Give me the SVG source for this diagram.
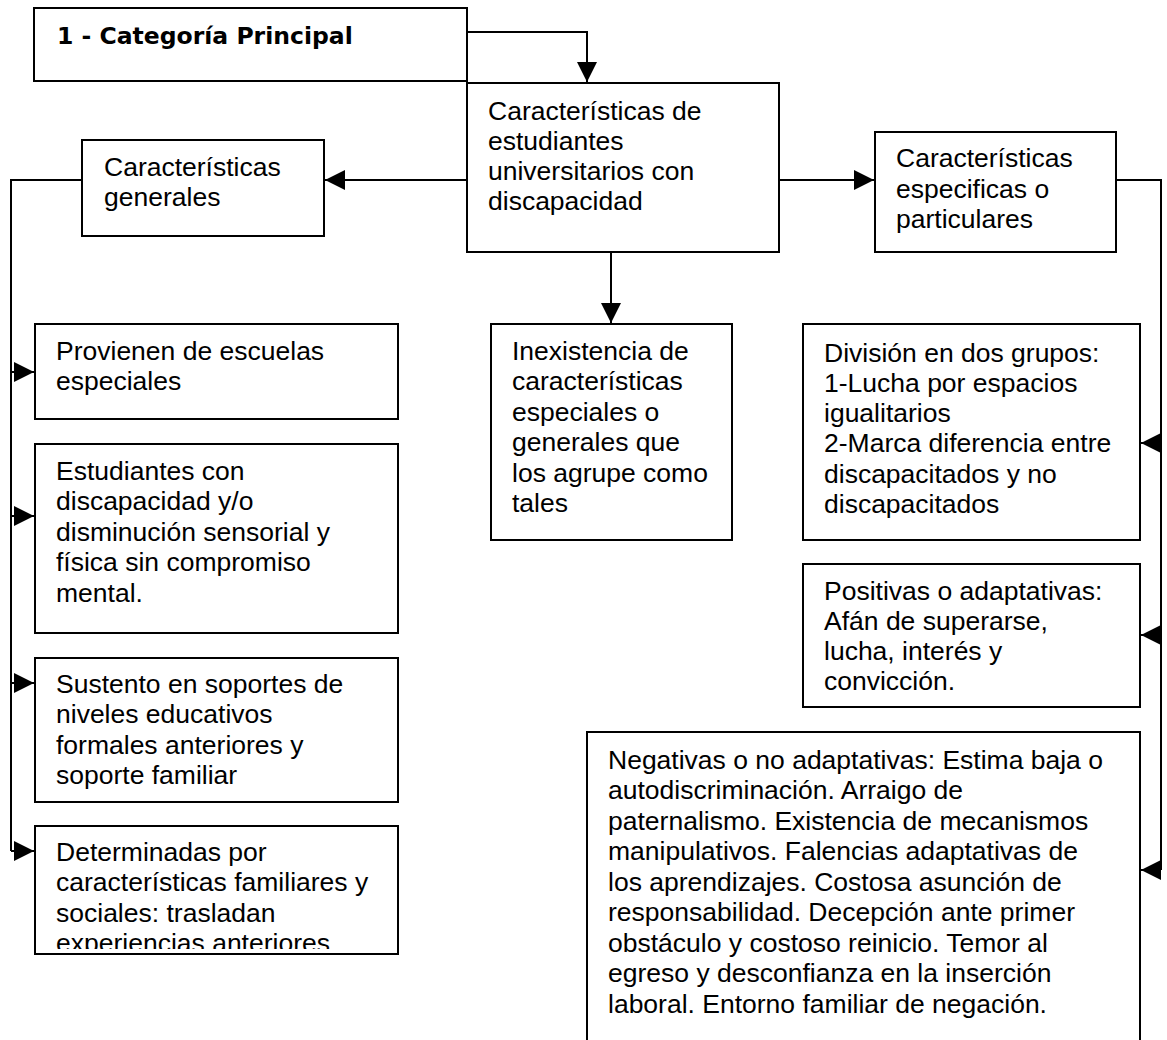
<svg xmlns="http://www.w3.org/2000/svg" width="1167" height="1040" viewBox="0 0 1167 1040">
<style>
.box{fill:#fff;stroke:#000;stroke-width:2}
.t{font-family:"Liberation Sans",Arial,sans-serif;font-size:26.5px;fill:#000}
.b{font-family:"DejaVu Sans",Verdana,sans-serif;font-size:23.5px;font-weight:bold;fill:#000}
.ln{fill:none;stroke:#000;stroke-width:2}
</style>
<defs>
<marker id="ah" markerUnits="userSpaceOnUse" markerWidth="21" markerHeight="20" refX="20" refY="10" orient="auto">
<path d="M0,0 L20,10 L0,20 Z" fill="#000"/>
</marker>
<clipPath id="clip4"><rect x="35" y="826" width="364" height="123"/></clipPath>
</defs>
<rect width="1167" height="1040" fill="#fff"/>

<g id="connectors">
<path class="ln" d="M467,32 H587 V82" marker-end="url(#ah)"/>
<path class="ln" d="M467,180 H325" marker-end="url(#ah)"/>
<path class="ln" d="M779,180 H874" marker-end="url(#ah)"/>
<path class="ln" d="M611,252 V323" marker-end="url(#ah)"/>
<path class="ln" d="M82,180 H11 V851"/>
<path class="ln" d="M11,372 H34" marker-end="url(#ah)"/>
<path class="ln" d="M11,516 H34" marker-end="url(#ah)"/>
<path class="ln" d="M11,683 H34" marker-end="url(#ah)"/>
<path class="ln" d="M11,851 H34" marker-end="url(#ah)"/>
<path class="ln" d="M1116,180 H1161 V870"/>
<path class="ln" d="M1161,443 H1141" marker-end="url(#ah)"/>
<path class="ln" d="M1161,635 H1141" marker-end="url(#ah)"/>
<path class="ln" d="M1161,870 H1141" marker-end="url(#ah)"/>
</g>

<g id="n-categoria">
<rect class="box" x="34" y="8" width="433" height="73"/>
<text class="b" x="57" y="44">1 - Categoría Principal</text>
</g>

<g id="n-centro">
<rect class="box" x="467" y="83" width="312" height="169"/>
<text class="t"><tspan x="488" y="119.5">Características de</tspan><tspan x="488" y="149.5">estudiantes</tspan><tspan x="488" y="180">universitarios con</tspan><tspan x="488" y="210">discapacidad</tspan></text>
</g>

<g id="n-generales">
<rect class="box" x="82" y="140" width="242" height="96"/>
<text class="t"><tspan x="104" y="176">Características</tspan><tspan x="104" y="206">generales</tspan></text>
</g>

<g id="n-especificas">
<rect class="box" x="875" y="132" width="241" height="120"/>
<text class="t"><tspan x="896" y="167">Características</tspan><tspan x="896" y="197.5">especificas o</tspan><tspan x="896" y="228">particulares</tspan></text>
</g>

<g id="n-inexistencia">
<rect class="box" x="491" y="324" width="241" height="216"/>
<text class="t"><tspan x="512" y="359.5">Inexistencia de</tspan><tspan x="512" y="390">características</tspan><tspan x="512" y="420.5">especiales o</tspan><tspan x="512" y="451">generales que</tspan><tspan x="512" y="481.5">los agrupe como</tspan><tspan x="512" y="512">tales</tspan></text>
</g>

<g id="n-provienen">
<rect class="box" x="35" y="324" width="363" height="95"/>
<text class="t"><tspan x="56" y="359.5">Provienen de escuelas</tspan><tspan x="56" y="390">especiales</tspan></text>
</g>

<g id="n-estudiantes">
<rect class="box" x="35" y="444" width="363" height="189"/>
<text class="t"><tspan x="56" y="479.5">Estudiantes con</tspan><tspan x="56" y="510">discapacidad y/o</tspan><tspan x="56" y="540.5">disminución sensorial y</tspan><tspan x="56" y="571">física sin compromiso</tspan><tspan x="56" y="601.5">mental.</tspan></text>
</g>

<g id="n-sustento">
<rect class="box" x="35" y="658" width="363" height="144"/>
<text class="t"><tspan x="56" y="692.5">Sustento en soportes de</tspan><tspan x="56" y="723">niveles educativos</tspan><tspan x="56" y="753.5">formales anteriores y</tspan><tspan x="56" y="784">soporte familiar</tspan></text>
</g>

<g id="n-determinadas">
<rect class="box" x="35" y="826" width="363" height="128"/>
<text class="t" clip-path="url(#clip4)"><tspan x="56" y="860.5">Determinadas por</tspan><tspan x="56" y="891">características familiares y</tspan><tspan x="56" y="921.5">sociales: trasladan</tspan><tspan x="56" y="952">experiencias anteriores</tspan></text>
</g>

<g id="n-division">
<rect class="box" x="803" y="324" width="337" height="216"/>
<text class="t"><tspan x="824" y="362">División en dos grupos:</tspan><tspan x="824" y="392">1-Lucha por espacios</tspan><tspan x="824" y="422">igualitarios</tspan><tspan x="824" y="452">2-Marca diferencia entre</tspan><tspan x="824" y="482.5">discapacitados y no</tspan><tspan x="824" y="512.5">discapacitados</tspan></text>
</g>

<g id="n-positivas">
<rect class="box" x="803" y="564" width="337" height="143"/>
<text class="t"><tspan x="824" y="599.5">Positivas o adaptativas:</tspan><tspan x="824" y="629.5">Afán de superarse,</tspan><tspan x="824" y="659.5">lucha, interés y</tspan><tspan x="824" y="689.5">convicción.</tspan></text>
</g>

<g id="n-negativas">
<rect class="box" x="587" y="732" width="553" height="340"/>
<text class="t"><tspan x="608" y="768.5">Negativas o no adaptativas: Estima baja o</tspan><tspan x="608" y="799">autodiscriminación. Arraigo de</tspan><tspan x="608" y="829.5">paternalismo. Existencia de mecanismos</tspan><tspan x="608" y="860">manipulativos. Falencias adaptativas de</tspan><tspan x="608" y="890.5">los aprendizajes. Costosa asunción de</tspan><tspan x="608" y="921">responsabilidad. Decepción ante primer</tspan><tspan x="608" y="951.5">obstáculo y costoso reinicio. Temor al</tspan><tspan x="608" y="982">egreso y desconfianza en la inserción</tspan><tspan x="608" y="1012.5">laboral. Entorno familiar de negación.</tspan></text>
</g>
</svg>
